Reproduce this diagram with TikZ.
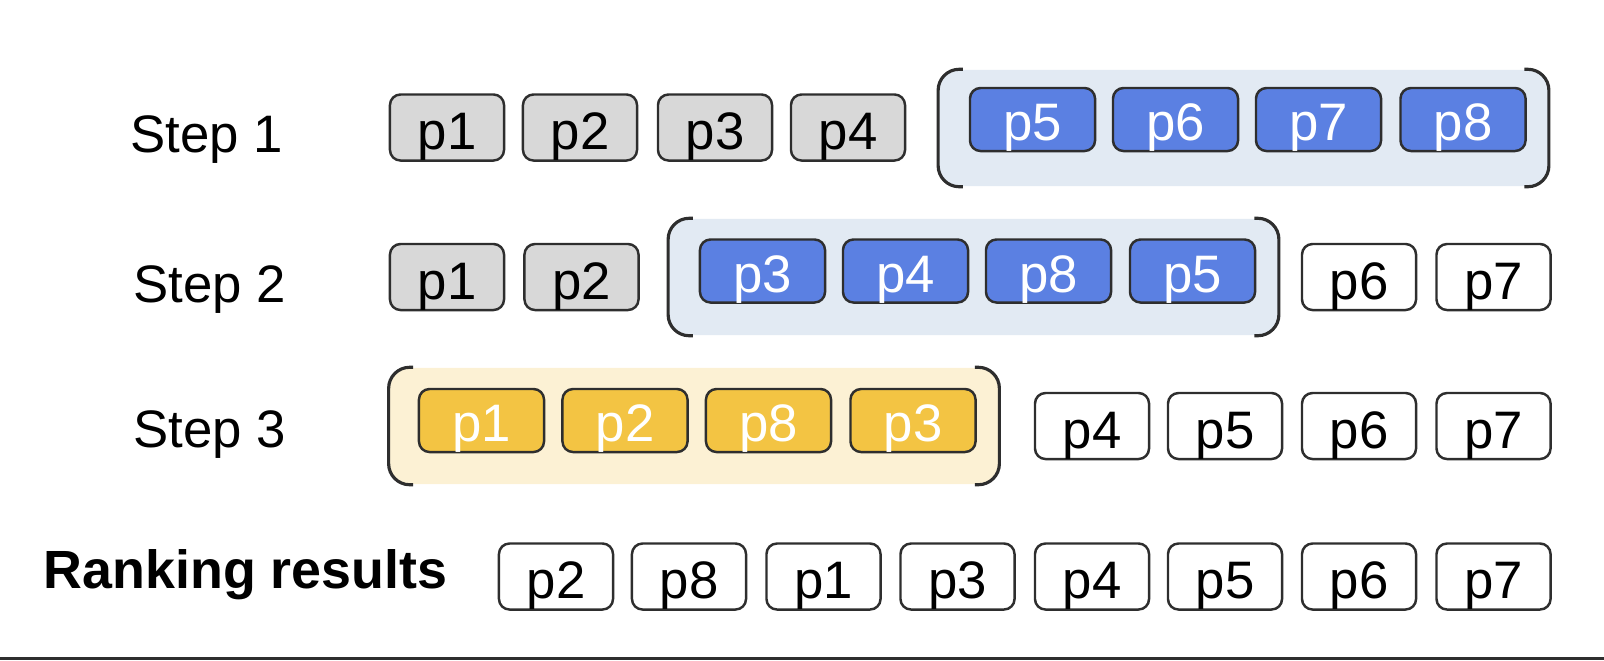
\documentclass[tikz,border=0pt]{standalone}
\usepackage{fontspec}
\setmainfont{Liberation Sans}
\definecolor{boxgrey}{HTML}{D8D8D8}
\definecolor{boxblue}{HTML}{5B80E2}
\definecolor{boxyellow}{HTML}{F3C443}
\definecolor{winblue}{HTML}{E2EAF3}
\definecolor{winyellow}{HTML}{FCF1D4}
\definecolor{edge}{HTML}{2E2E2E}

\begin{document}
\begin{tikzpicture}[x=0.01cm, y=-0.01cm,
        pbox/.style={draw=edge, line width=0.7pt, rounded corners=3pt, minimum width=1.14cm, minimum height=0.66cm, inner sep=0pt, text height=12.6pt, text depth=0pt, font=\fontsize{15pt}{17pt}\selectfont},
        greybox/.style={pbox, fill=boxgrey},
        candbox/.style={pbox, minimum width=1.25cm, minimum height=0.63cm, text=white, text height=12pt},
        bluebox/.style={candbox, fill=boxblue},
        yellowbox/.style={candbox, fill=boxyellow},
        window/.style={inner sep=0pt, rounded corners=6pt, minimum width=6.09cm, minimum height=1.16cm},
        bracket/.style={draw=edge, line width=0.9pt, rounded corners=6pt},
        steplabel/.style={anchor=west, inner sep=0pt, font=\fontsize{15pt}{18pt}\selectfont}]
        \useasboundingbox (0,0) rectangle (1604,660);

        \node[window, fill=winblue] (win1) at (1243.5,128) {};
        \node[window, fill=winblue] (win2) at (973.5,277) {};
        \node[window, fill=winyellow] (win3) at (694,426) {};

        \draw[bracket] ([xshift=7pt]win1.north west) -- (win1.north west) -- (win1.south west) -- ([xshift=7pt]win1.south west);
        \draw[bracket] ([xshift=-7pt]win1.north east) -- (win1.north east) -- (win1.south east) -- ([xshift=-7pt]win1.south east);
        \draw[bracket] ([xshift=7pt]win2.north west) -- (win2.north west) -- (win2.south west) -- ([xshift=7pt]win2.south west);
        \draw[bracket] ([xshift=-7pt]win2.north east) -- (win2.north east) -- (win2.south east) -- ([xshift=-7pt]win2.south east);
        \draw[bracket] ([xshift=7pt]win3.north west) -- (win3.north west) -- (win3.south west) -- ([xshift=7pt]win3.south west);
        \draw[bracket] ([xshift=-7pt]win3.north east) -- (win3.north east) -- (win3.south east) -- ([xshift=-7pt]win3.south east);

        \node[steplabel] (lab1) at (130,140) {Step 1};
        \node[greybox] (a1) at (447,127.5) {p1};
        \node[greybox] (a2) at (580,127.5) {p2};
        \node[greybox] (a3) at (715,127.5) {p3};
        \node[greybox] (a4) at (848,127.5) {p4};
        \node[bluebox] (a5) at (1032.5,119.5) {p5};
        \node[bluebox] (a6) at (1175.5,119.5) {p6};
        \node[bluebox] (a7) at (1318.5,119.5) {p7};
        \node[bluebox] (a8) at (1463,119.5) {p8};

        \node[steplabel] (lab2) at (133,290) {Step 2};
        \node[greybox] (b1) at (447,277) {p1};
        \node[greybox] (b2) at (581.5,277) {p2};
        \node[bluebox] (b3) at (762.5,271) {p3};
        \node[bluebox] (b4) at (905.5,271) {p4};
        \node[bluebox] (b8) at (1048.5,271) {p8};
        \node[bluebox] (b5) at (1192.5,271) {p5};
        \node[pbox] (b6) at (1359,277) {p6};
        \node[pbox] (b7) at (1493.5,277) {p7};

        \node[steplabel] (lab3) at (133,435) {Step 3};
        \node[yellowbox] (c1) at (481.5,420.5) {p1};
        \node[yellowbox] (c2) at (625,420.5) {p2};
        \node[yellowbox] (c8) at (768.5,420.5) {p8};
        \node[yellowbox] (c3) at (913,420.5) {p3};
        \node[pbox] (c4) at (1092,426) {p4};
        \node[pbox] (c5) at (1225,426) {p5};
        \node[pbox] (c6) at (1359,426) {p6};
        \node[pbox] (c7) at (1493.5,426) {p7};

        \node[steplabel, font=\fontsize{15.3pt}{18pt}\selectfont\bfseries] (labr) at (43,575) {Ranking results};
        \node[pbox] (r2) at (556,576.5) {p2};
        \node[pbox] (r8) at (689,576.5) {p8};
        \node[pbox] (r1) at (823.5,576.5) {p1};
        \node[pbox] (r3) at (957.5,576.5) {p3};
        \node[pbox] (r4) at (1092,576.5) {p4};
        \node[pbox] (r5) at (1225,576.5) {p5};
        \node[pbox] (r6) at (1359,576.5) {p6};
        \node[pbox] (r7) at (1493.5,576.5) {p7};

        \fill[edge] (0,657) rectangle (1604,660);
\end{tikzpicture}
\end{document}
